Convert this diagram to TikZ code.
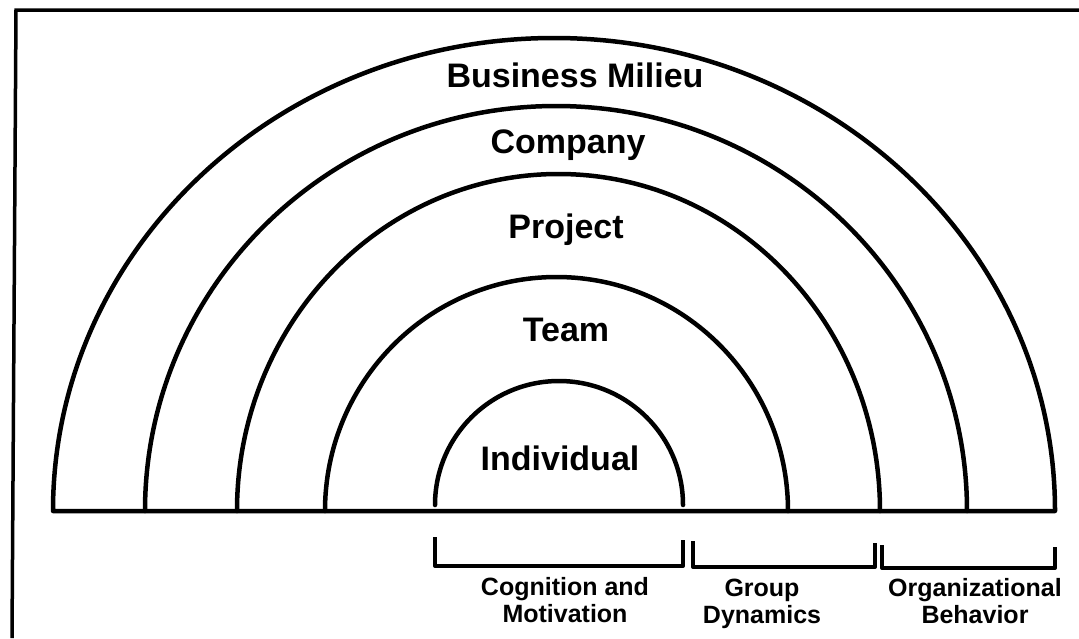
\documentclass[tikz,border=0pt]{standalone}
\usepackage{fontspec}
\setmainfont{Liberation Sans}
\tikzset{
  ring/.style={line width=4.5pt, line join=round, line cap=round},
  frameline/.style={line width=3.5pt},
  bracketline/.style={line width=4pt, line join=round},
  biglabel/.style={font=\bfseries\fontsize{34}{40}\selectfont, inner sep=0pt, anchor=base},
  smalllabel/.style={font=\bfseries\fontsize{25}{27}\selectfont, inner sep=0pt, anchor=base, align=center},
}
\begin{document}
\begin{tikzpicture}[x=1pt,y=-1pt]
\useasboundingbox (0,0) rectangle (1079,638);
% frame (left and top edges)
\coordinate (fbl) at (12,638);
\coordinate (ftl) at (16,10);
\coordinate (ftr) at (1079,10);
\draw[frameline] (fbl) -- (ftl) -- (ftr);
% rings
\coordinate (outerL) at (53,511);
\coordinate (compL) at (145,511);
\coordinate (projL) at (237,511);
\coordinate (teamL) at (325,511);
\coordinate (indL) at (435,505);
\draw[ring] (outerL) arc[start angle=180,end angle=360,x radius=501,y radius=473] -- cycle;
\draw[ring] (compL) arc[start angle=180,end angle=360,x radius=411,y radius=405];
\draw[ring] (projL) arc[start angle=180,end angle=360,x radius=321.5,y radius=337];
\draw[ring] (teamL) arc[start angle=180,end angle=360,x radius=231.5,y radius=234];
\draw[ring] (indL) arc[start angle=180,end angle=360,radius=124];
% labels
\node[biglabel] (milieu) at (575,87) {Business Milieu};
\node[biglabel] (company) at (568,153) {Company};
\node[biglabel] (project) at (566,238) {Project};
\node[biglabel] (team) at (566,341) {Team};
\node[biglabel] (individual) at (560,470) {Individual};
% brackets
\coordinate (b1a) at (435,537); \coordinate (b1b) at (435,566);
\coordinate (b1c) at (683,566); \coordinate (b1d) at (683,540);
\coordinate (b2a) at (693,541); \coordinate (b2b) at (693,567);
\coordinate (b2c) at (875,567); \coordinate (b2d) at (875,543);
\coordinate (b3a) at (882,545); \coordinate (b3b) at (882,568);
\coordinate (b3c) at (1055,568); \coordinate (b3d) at (1055,547);
\draw[bracketline] (b1a) -- (b1b) -- (b1c) -- (b1d);
\draw[bracketline] (b2a) -- (b2b) -- (b2c) -- (b2d);
\draw[bracketline] (b3a) -- (b3b) -- (b3c) -- (b3d);
\node[smalllabel] (cogn) at (565,622) {Cognition and\\Motivation};
\node[smalllabel] (group) at (762,623) {Group\\Dynamics};
\node[smalllabel] (org) at (975,623) {Organizational\\Behavior};
\end{tikzpicture}
\end{document}
